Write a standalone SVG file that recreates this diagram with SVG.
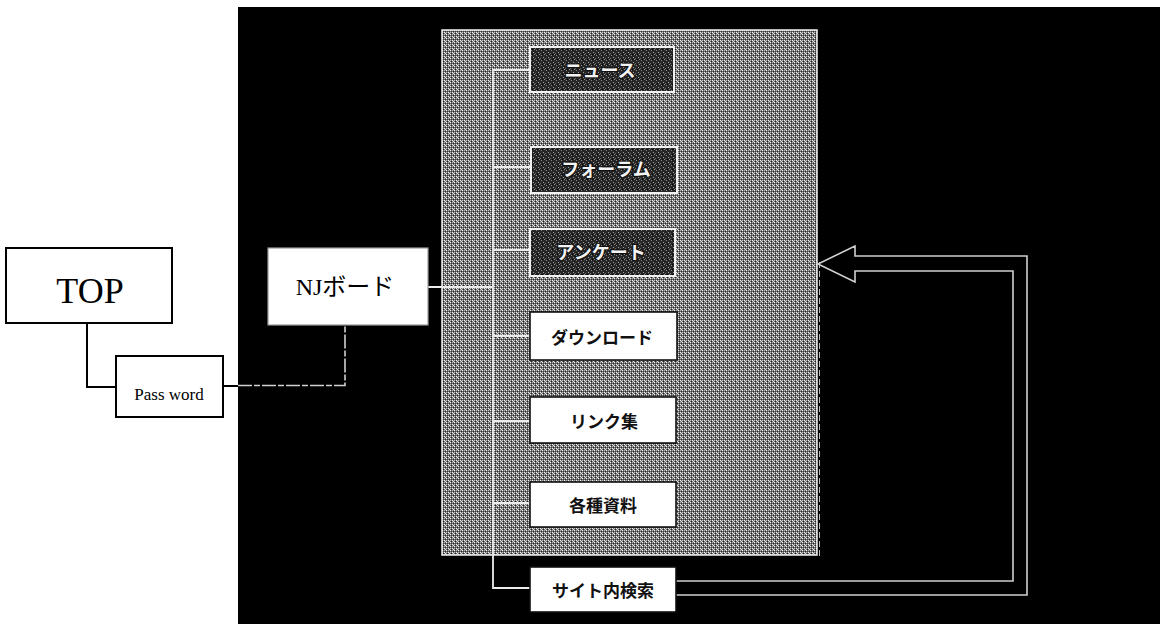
<svg xmlns="http://www.w3.org/2000/svg" width="1162" height="624" viewBox="0 0 1162 624">
  <defs>
    <pattern id="grayTex" width="4" height="4" patternUnits="userSpaceOnUse">
      <rect width="4" height="4" fill="#707070"/>
      <rect x="0" y="0" width="1" height="1" fill="#f4f4f4"/>
      <rect x="2" y="0" width="1" height="1" fill="#bdbdbd"/>
      <rect x="1" y="1" width="1" height="1" fill="#e0e0e0"/>
      <rect x="3" y="1" width="1" height="1" fill="#1e1e1e"/>
      <rect x="0" y="2" width="1" height="1" fill="#b0b0b0"/>
      <rect x="2" y="2" width="1" height="1" fill="#f4f4f4"/>
      <rect x="1" y="3" width="1" height="1" fill="#2a2a2a"/>
      <rect x="3" y="3" width="1" height="1" fill="#3a3a3a"/>
    </pattern>
    <pattern id="darkTex" width="5" height="5" patternUnits="userSpaceOnUse">
      <rect width="5" height="5" fill="#262626"/>
      <rect x="1" y="0" width="1" height="1" fill="#8a8a8a"/>
      <rect x="3" y="2" width="1" height="1" fill="#a0a0a0"/>
      <rect x="0" y="3" width="1" height="1" fill="#6a6a6a"/>
      <rect x="4" y="4" width="1" height="1" fill="#909090"/>
      <rect x="2" y="4" width="1" height="1" fill="#000000"/>
    </pattern>
    <style>
      .wbox { fill: #ffffff; stroke: #000000; stroke-width: 2; }
      .nbox { fill: #ffffff; stroke: #9a9a9a; stroke-width: 1.2; }
      .dbox { fill: url(#darkTex); stroke: #f2f2f2; stroke-width: 2; }
      .lbox { fill: #ffffff; stroke: #111111; stroke-width: 1.6; }
      .serif { font-family: "Liberation Serif", "Noto Sans CJK JP", serif; fill: #000; text-anchor: middle; }
      .jp { font-family: "Noto Sans CJK JP", sans-serif; font-size: 17px; font-weight: 700; fill: #111; text-anchor: middle; dominant-baseline: central; }
      .jpd { font-family: "Noto Sans CJK JP", sans-serif; font-size: 18px; font-weight: 700; fill: #f4f4f4; stroke: #111; stroke-width: 2.2; paint-order: stroke; text-anchor: middle; dominant-baseline: central; }
      .blk { fill: none; stroke: #000; stroke-width: 2; }
      .wl { fill: none; stroke: #ececec; stroke-width: 1.8; }
      .gl { fill: none; stroke: #d0d0d0; stroke-width: 1.6; }
    </style>
  </defs>

  <rect width="1162" height="624" fill="#ffffff"/>
  <rect x="238" y="7" width="922" height="617" fill="#000000"/>

  <g id="panel">
    <rect x="442" y="30" width="375" height="525" fill="url(#grayTex)" stroke="#f2f2f2" stroke-width="1.5"/>
    <line x1="819.5" y1="262" x2="819.5" y2="558" stroke="#bbbbbb" stroke-width="1" stroke-dasharray="6 3"/>
  </g>

  <g id="connectors">
    <path class="blk" d="M87,323 V387 H116"/>
    <path class="blk" d="M223,386 H238"/>
    <path class="gl" d="M238,385.5 H345 V325" stroke-dasharray="14 2 6 2"/>
    <path class="wl" d="M428,287 H492"/>
    <path class="wl" d="M530,70 H493 V588 H530"/>
    <path class="wl" d="M493,167 H530 M493,250 H530 M493,336 H530 M493,421 H530 M493,503 H530"/>
    <path class="gl" d="M676,595 H1027 V256 H855 V246 L818,264 L855,282 V271 H1013 V581 H676"/>
  </g>

  <g id="top">
    <rect class="wbox" x="6" y="248" width="166" height="75"/>
    <text class="serif" x="90" y="303" font-size="36">TOP</text>
  </g>

  <g id="password">
    <rect class="wbox" x="116" y="356" width="107" height="61"/>
    <text class="serif" x="169" y="400" font-size="17">Pass word</text>
  </g>

  <g id="njboard">
    <rect class="nbox" x="268" y="248" width="160" height="77"/>
    <text class="serif" x="345" y="295" font-size="24">NJボード</text>
  </g>

  <g id="news">
    <rect class="dbox" x="530" y="47" width="144" height="45"/>
    <text class="jpd" x="600" y="69">ニュース</text>
  </g>

  <g id="forum">
    <rect class="dbox" x="531" y="147" width="146" height="46"/>
    <text class="jpd" x="606" y="168">フォーラム</text>
  </g>

  <g id="enquete">
    <rect class="dbox" x="530" y="229" width="145" height="47"/>
    <text class="jpd" x="601" y="251">アンケート</text>
  </g>

  <g id="download">
    <rect class="lbox" x="530" y="312" width="147" height="48"/>
    <text class="jp" x="602" y="336">ダウンロード</text>
  </g>

  <g id="links">
    <rect class="lbox" x="530" y="397" width="146" height="46"/>
    <text class="jp" x="604" y="420">リンク集</text>
  </g>

  <g id="docs">
    <rect class="lbox" x="530" y="482" width="146" height="45"/>
    <text class="jp" x="603" y="504">各種資料</text>
  </g>

  <g id="search">
    <rect class="lbox" x="530" y="567" width="146" height="45"/>
    <text class="jp" x="603" y="589">サイト内検索</text>
  </g>
</svg>
